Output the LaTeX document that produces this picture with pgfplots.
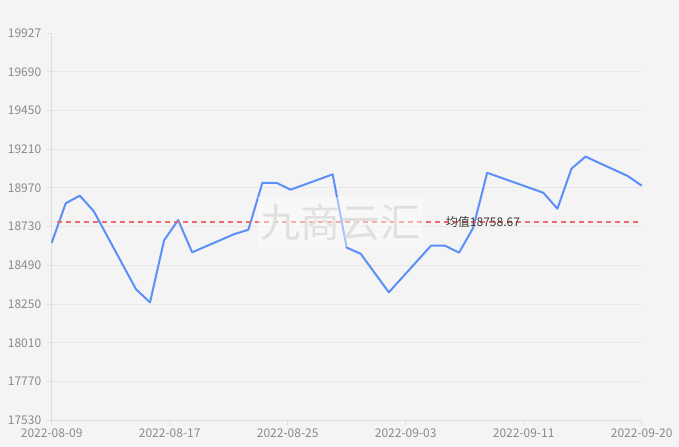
\documentclass[border=0pt]{standalone}
\usepackage{fontspec}
\setmainfont{Noto Sans CJK SC}
\usepackage{pgfplots}
\pgfplotsset{compat=1.18}
\definecolor{bg}{RGB}{244,244,244}
\definecolor{gridc}{RGB}{232,232,232}
\definecolor{axisc}{RGB}{222,222,222}
\definecolor{labc}{RGB}{138,138,138}
\definecolor{lineblue}{RGB}{91,143,249}
\definecolor{meanred}{RGB}{240,108,108}
\definecolor{meantext}{RGB}{60,60,60}
\definecolor{wmtext}{RGB}{224,224,224}
\begin{document}
\begin{tikzpicture}
\fill[bg] (-51.7bp,-26.7bp) rectangle (627.3bp,420.3bp);
\useasboundingbox (-51.7bp,-26.7bp) rectangle (627.3bp,420.3bp);
\begin{axis}[
  scale only axis, width=590bp, height=386.8bp,
  xmin=0, xmax=42, ymin=17530, ymax=19927,
  axis lines*=left,
  axis line style={draw=axisc, line width=1bp},
  xtick={0,8.4,16.8,25.2,33.6,42},
  xticklabels={2022-08-09,2022-08-17,2022-08-25,2022-09-03,2022-09-11,2022-09-20},
  ytick={17530,17770,18010,18250,18490,18730,18970,19210,19450,19690},
  extra y ticks={19927},
  extra y tick style={grid=none},
  scaled ticks=false,
  ymajorgrids,
  grid style={draw=gridc, line width=1bp},
  tick align=outside,
  major tick length=5bp,
  tick style={draw=axisc, line width=1bp},
  ticklabel style={font=\fontsize{12bp}{14bp}\selectfont, text=labc},
  yticklabel style={xshift=-2bp},
  /pgf/number format/fixed,
  /pgf/number format/precision=0,
  /pgf/number format/set thousands separator={},
  /pgf/number format/assume math mode=true,
  clip=false,
]
\addplot[lineblue, line width=2bp, line join=round] coordinates {
(0,18630) (1,18875) (2,18922) (3,18825) (6,18342) (7,18261) (8,18645)
(9,18771) (10,18571) (13,18684) (14,18711) (15,19002) (16,19002) (17,18959)
(20,19054) (21,18600) (22,18562) (23,18442) (24,18323) (27,18612) (28,18612)
(29,18569) (30,18722) (31,19064) (35,18940) (36,18841) (37,19089) (38,19164)
(41,19044) (42,18984)
};
\addplot[meanred, line width=1.3bp, dash pattern=on 5bp off 4bp] coordinates {(0.4,18758.67) (42,18758.67)};
\node[font=\fontsize{12bp}{14bp}\selectfont, text=meantext, inner sep=0pt] at (axis cs:30.7,18758.67) {均值18758.67};
\node[fill=white, fill opacity=0.45, text opacity=1, text=wmtext,
      font=\fontsize{40bp}{44bp}\selectfont, minimum width=165bp, minimum height=50bp, inner sep=0pt]
      at (rel axis cs:0.4895,0.5127) {九商云汇};
\end{axis}
\end{tikzpicture}
\end{document}
